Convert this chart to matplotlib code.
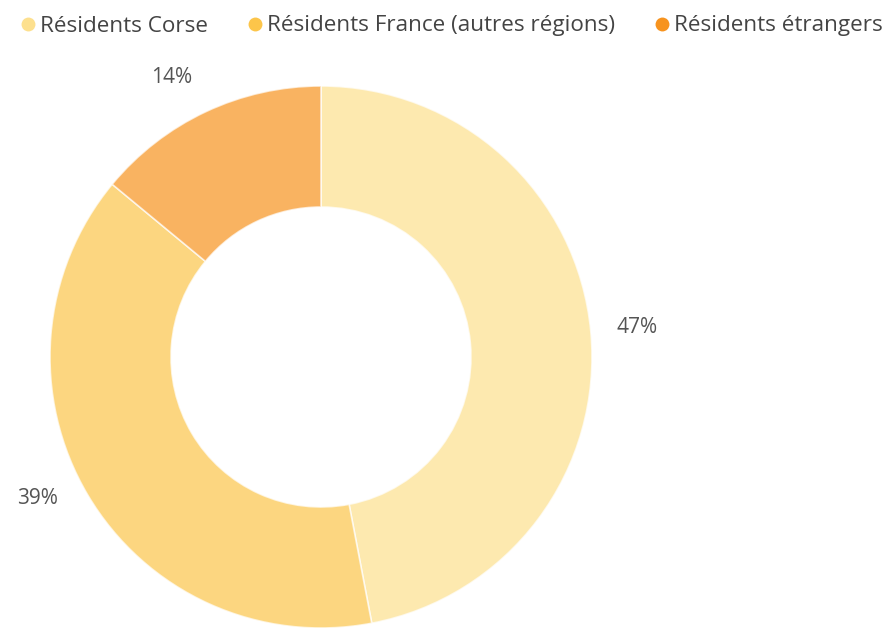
import numpy as np
import matplotlib
matplotlib.use("Agg")
import matplotlib.pyplot as plt
from matplotlib.lines import Line2D

categories = ["Résidents Corse", "Résidents France (autres régions)", "Résidents étrangers"]
values = [47, 39, 14]
base_colors = ["#fde08e", "#fcc54a", "#f7931e"]

plt.rcParams['font.family'] = ['Open Sans', 'DejaVu Sans']

W, H = 892, 629
fig = plt.figure(figsize=(W / 100, H / 100), dpi=100)
ax = fig.add_axes([0, 0, 1, 1])

cx, cy = 321, H - 357
R = 271
wedges, _ = ax.pie(values, colors=base_colors, startangle=90, counterclock=False,
                   radius=R, center=(cx, cy), frame=True,
                   wedgeprops=dict(width=R - 150, edgecolor='white', linewidth=1.2, alpha=0.7))
ax.set_xlim(0, W)
ax.set_ylim(0, H)
ax.set_aspect('equal')
ax.axis('off')

# labels
offsets = [0, -4, 3]
for w, v, off in zip(wedges, values, offsets):
    mid = np.deg2rad((w.theta1 + w.theta2) / 2 + off)
    d = R * 1.17
    ax.text(cx + d * np.cos(mid), cy + d * np.sin(mid), f"{v}%", ha='center', va='center',
            fontsize=15, color='#555555')

handles = [Line2D([], [], marker='o', linestyle='none', markersize=10,
                  markerfacecolor=c, markeredgecolor='none') for c in base_colors]
fig.legend(handles, categories, loc='center left', bbox_to_anchor=(21.7 / W, 1 - 26 / H),
           ncol=3, frameon=False, fontsize=16.2, handlelength=0.55, handletextpad=0.25,
           columnspacing=1.82, labelcolor='#444444', borderaxespad=0, borderpad=0)

fig.savefig("out.png", dpi=100, facecolor='white')
